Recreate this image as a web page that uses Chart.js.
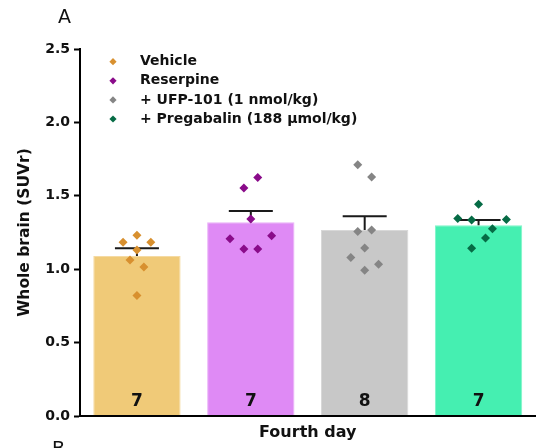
<!DOCTYPE html>
<html>
<head>
<meta charset="utf-8">
<script src="https://cdn.jsdelivr.net/npm/chart.js@4.4.1/dist/chart.umd.min.js"></script>
<style>
  html, body { margin: 0; padding: 0; background: #fff; overflow: hidden; }
  #wrap { width: 540px; height: 448px; }
</style>
</head>
<body>
<div id="wrap"><canvas id="uptake" width="540" height="448"></canvas></div>
<script>
// Whole brain SUVr on the fourth day, one bar per treatment group
const groups = ['Vehicle', 'Reserpine', '+ UFP-101 (1 nmol/kg)', '+ Pregabalin (188 \u03bcmol/kg)'];
const groupMeans = [1.090, 1.319, 1.267, 1.299];
const groupSem = [0.052, 0.077, 0.093, 0.036];

// individual animals
const vehicleVals = [1.183, 1.231, 1.183, 1.131, 1.063, 1.015, 0.820];
const reserpineVals = [1.624, 1.553, 1.342, 1.208, 1.228, 1.138, 1.138];
const ufpVals = [1.712, 1.628, 1.256, 1.267, 1.145, 1.079, 1.034, 0.993];
const pregabalinVals = [1.442, 1.346, 1.335, 1.339, 1.276, 1.213, 1.142];
const groupVals = [vehicleVals, reserpineVals, ufpVals, pregabalinVals];

// dot spread inside each bar (in dot columns, left < 0 < right)
const dotColumns = [
    [-2, 0, 2, 0, -1, 1, 0],
    [1, -1, 0, -3, 3, -1, 1],
    [-1, 1, -1, 1, 0, -2, 2, 0],
    [0, -3, -1, 4, 2, 1, -1]
];
const columnStep = 0.061;

const yTicks = [0, 0.5, 1.0, 1.5, 2.0, 2.5];

const barFills = ['#F0CA78', '#DF8AF5', '#C8C8C8', '#45EFB1'];
const barEdges = ['#F5DAA2', '#EAB0F8', '#D8D8D8', '#7EF4C8'];
const dotFills = ['#D8902F', '#8A0B8A', '#858585', '#066B45'];

Chart.defaults.font.family = "'DejaVu Sans', sans-serif";
Chart.defaults.color = '#111';

const scatterSets = groupVals.map((vals, g) => ({
    type: 'scatter',
    label: groups[g],
    data: vals.map((v, k) => ({ x: g + dotColumns[g][k] * columnStep, y: v })),
    pointStyle: 'rectRot',
    pointRadius: 4.5,
    pointHoverRadius: 4.5,
    backgroundColor: dotFills[g],
    borderWidth: 0,
    order: 1
}));

// SEM whiskers (upper half only, the bar hides the rest)
const errorBars = {
    id: 'errorBars',
    afterDatasetDraw(chart, args) {
        if (args.index !== 0) return;
        const ctx = chart.ctx;
        const y = chart.scales.y;
        ctx.save();
        ctx.strokeStyle = '#1a1a1a';
        ctx.lineWidth = 2;
        args.meta.data.forEach((bar, i) => {
            const top = y.getPixelForValue(groupMeans[i] + groupSem[i]);
            const base = y.getPixelForValue(groupMeans[i]);
            ctx.beginPath();
            ctx.moveTo(bar.x, base);
            ctx.lineTo(bar.x, top);
            ctx.moveTo(bar.x - 22, top);
            ctx.lineTo(bar.x + 22, top);
            ctx.stroke();
        });
        // group sizes at the foot of each bar
        ctx.fillStyle = '#111';
        ctx.font = "bold 17px 'DejaVu Sans'";
        ctx.textAlign = 'center';
        ctx.textBaseline = 'alphabetic';
        args.meta.data.forEach((bar, i) => {
            ctx.fillText(String(groupVals[i].length), bar.x, y.getPixelForValue(0) - 10);
        });
        ctx.restore();
    }
};

// legend block and panel letters
const panelText = {
    id: 'panelText',
    afterDraw(chart) {
        const ctx = chart.ctx;
        ctx.save();
        ctx.textBaseline = 'middle';
        ctx.textAlign = 'left';
        ctx.font = "bold 14px 'DejaVu Sans'";
        groups.forEach((name, i) => {
            const cy = 61.7 + i * 19.1;
            const cx = 113;
            const r = 3.6;
            ctx.fillStyle = dotFills[i];
            ctx.beginPath();
            ctx.moveTo(cx - r, cy);
            ctx.lineTo(cx, cy - r);
            ctx.lineTo(cx + r, cy);
            ctx.lineTo(cx, cy + r);
            ctx.closePath();
            ctx.fill();
            ctx.fillStyle = '#111';
            ctx.fillText(name, 140, cy);
        });
        ctx.textBaseline = 'alphabetic';
        ctx.font = "19px 'DejaVu Sans'";
        ctx.fillStyle = '#111';
        ctx.fillText('A', 58, 23);
        ctx.fillText('B', 52, 455);
        ctx.restore();
    }
};

new Chart(document.getElementById('uptake'), {
    type: 'bar',
    data: {
        datasets: [{
            type: 'bar',
            label: 'mean',
            data: groupMeans.map((m, i) => ({ x: i, y: m })),
            backgroundColor: barFills,
            borderColor: barEdges,
            borderWidth: 1,
            barPercentage: 0.767,
            categoryPercentage: 1,
            order: 2
        }, ...scatterSets]
    },
    options: {
        responsive: false,
        animation: false,
        events: [],
        layout: { padding: { top: 49, left: 0, right: 1, bottom: 0 } },
        plugins: { legend: { display: false }, tooltip: { enabled: false } },
        scales: {
            x: {
                type: 'linear',
                min: -0.5,
                max: 3.5,
                offset: false,
                grid: { display: false, offset: false },
                border: { display: true, color: '#000', width: 2, z: 1 },
                ticks: { display: false },
                afterBuildTicks(scale) { scale.ticks = groups.map((g, i) => ({ value: i })); },
                title: {
                    display: true,
                    text: 'Fourth day',
                    color: '#111',
                    font: { size: 16, weight: 'bold' },
                    padding: { top: 0, bottom: 6 }
                },
                afterFit(scale) { scale.height = 32; }
            },
            y: {
                type: 'linear',
                min: 0,
                max: 2.5,
                grid: { drawOnChartArea: false, drawTicks: true, tickLength: 6, tickWidth: 2, tickColor: '#000' },
                border: { display: true, color: '#000', width: 2, z: 1 },
                ticks: {
                    padding: 4,
                    color: '#111',
                    font: { size: 14, weight: 'bold' },
                    callback: v => v.toFixed(1)
                },
                afterBuildTicks(scale) { scale.ticks = yTicks.map(v => ({ value: v })); },
                title: {
                    display: true,
                    text: 'Whole brain (SUVr)',
                    color: '#111',
                    font: { size: 15.5, weight: 'bold' },
                    padding: { top: 15.5, bottom: 0 }
                },
                afterFit(scale) { scale.width = 80; }
            }
        }
    },
    plugins: [errorBars, panelText]
});
</script>
</body>
</html>
